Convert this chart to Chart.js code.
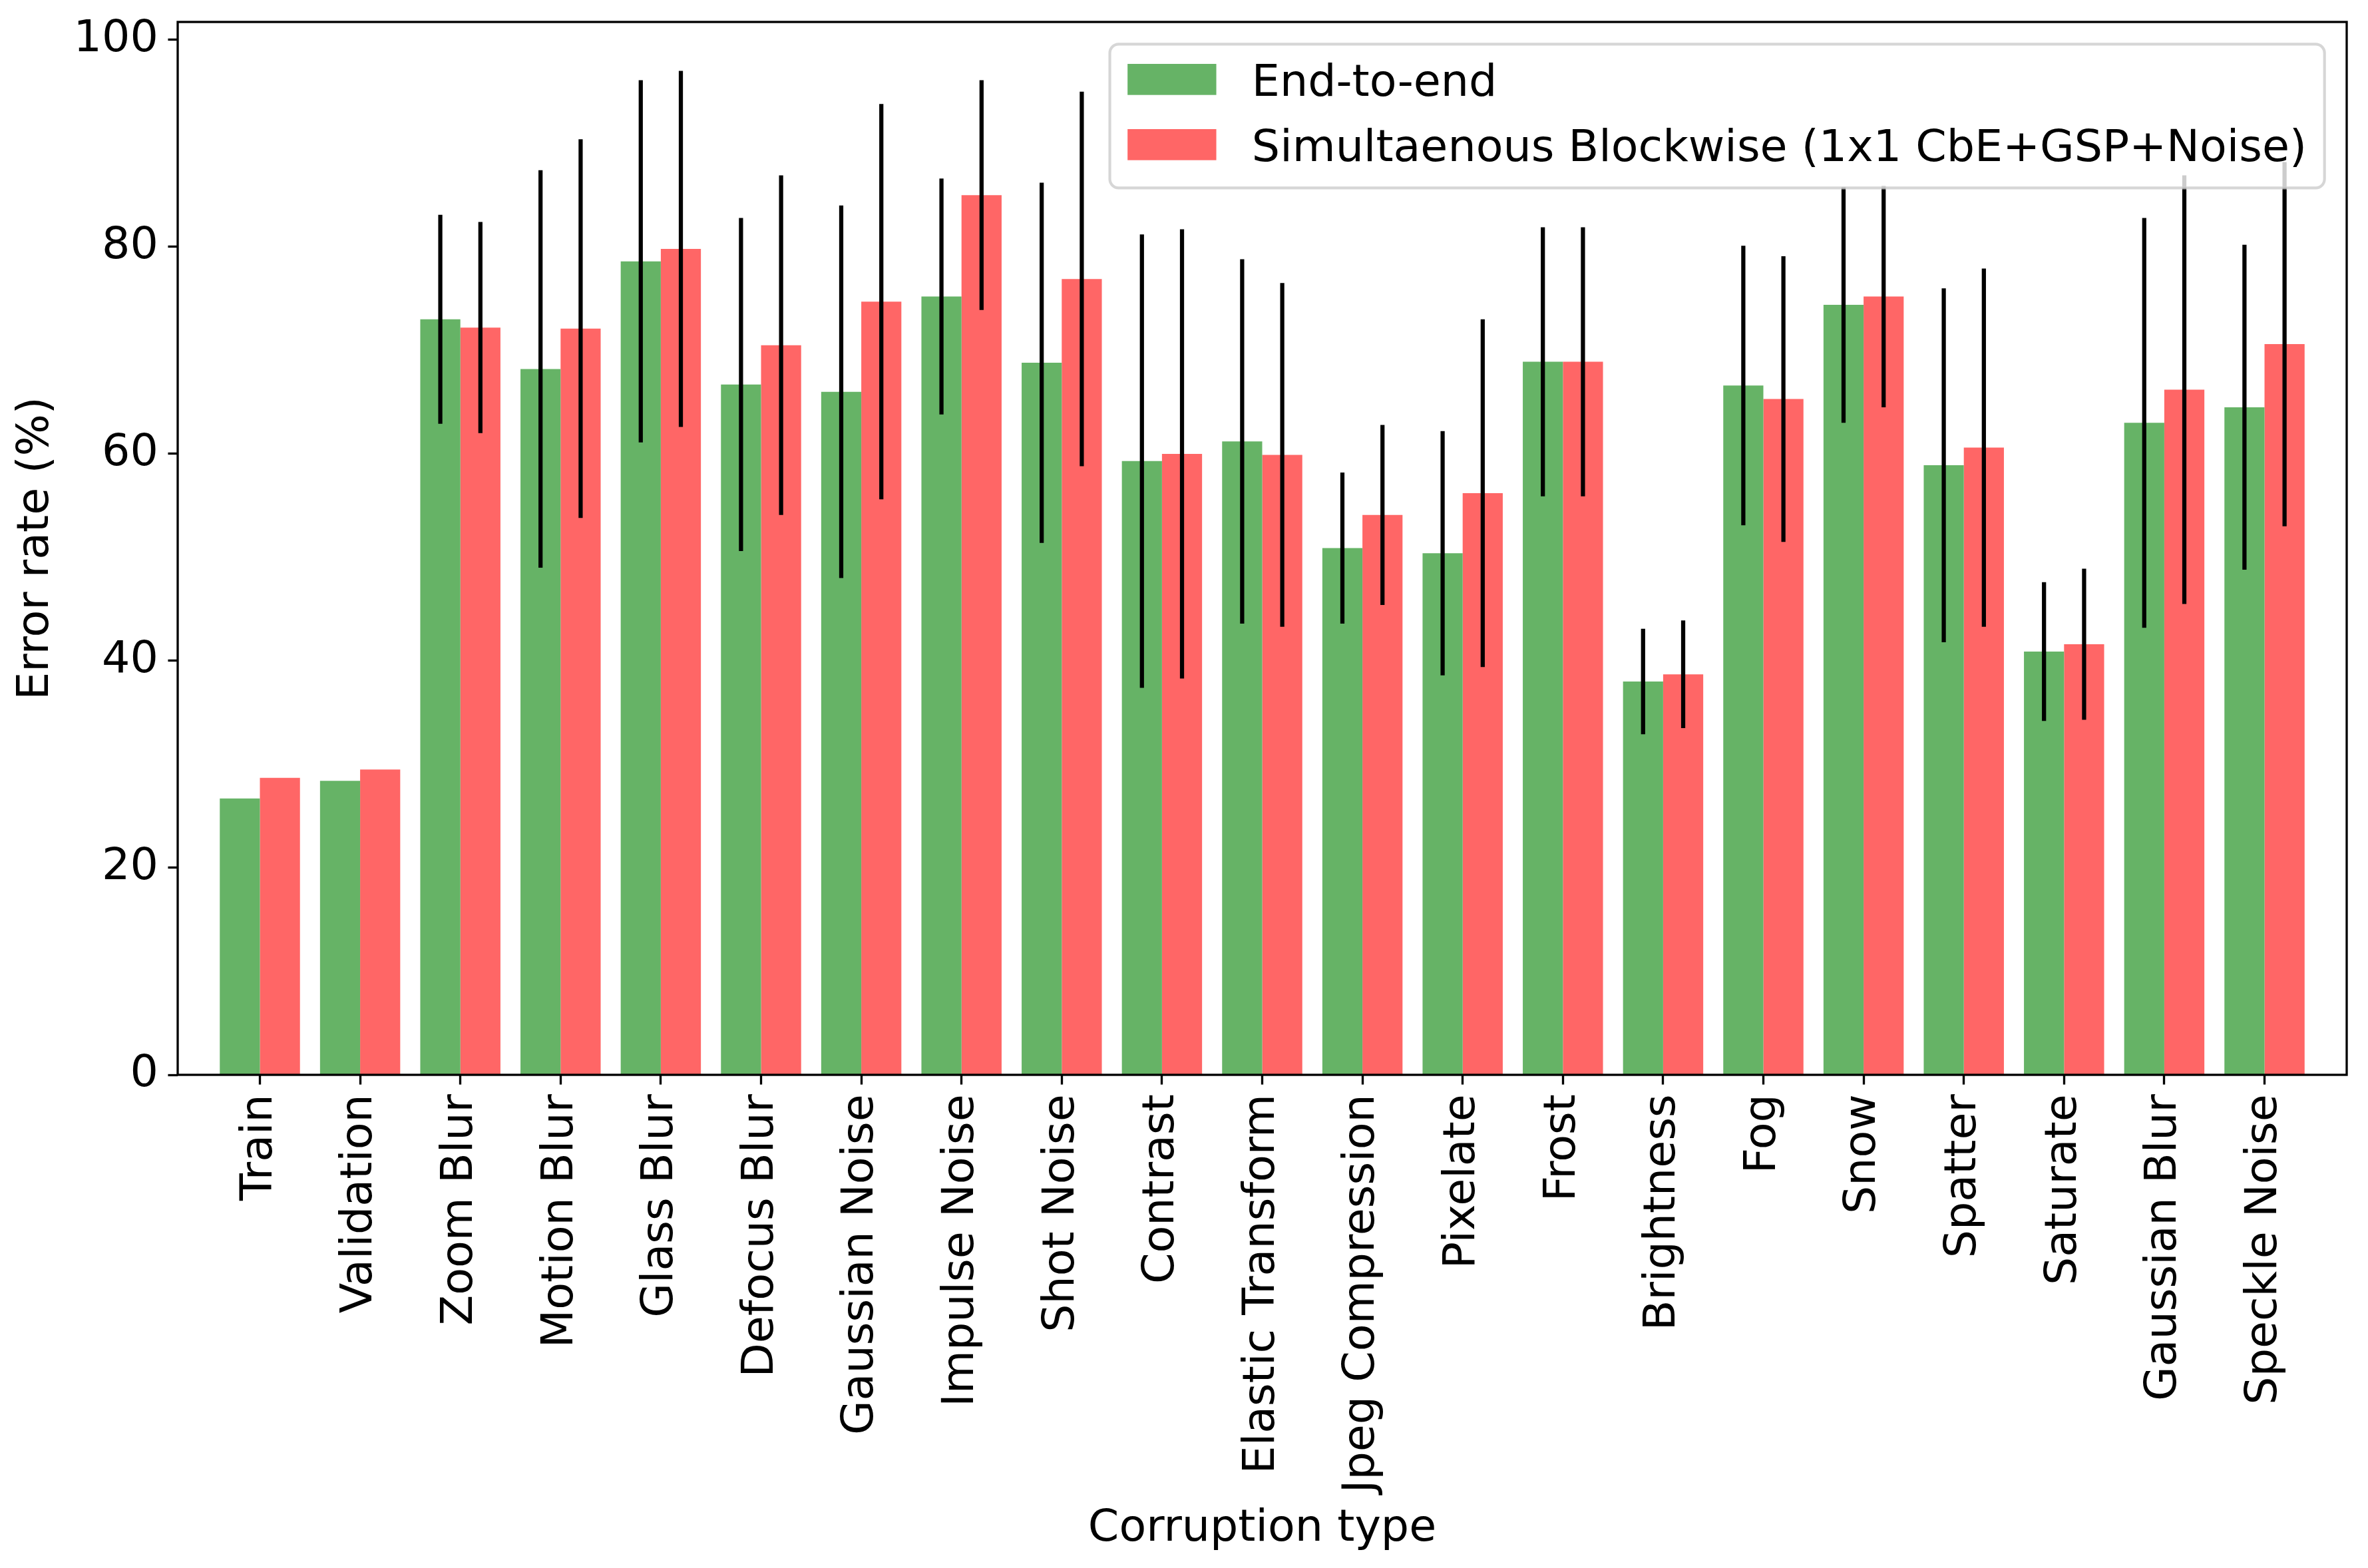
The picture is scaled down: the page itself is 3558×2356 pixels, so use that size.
<!DOCTYPE html>
<html><head><meta charset="utf-8">
<script src="https://cdn.jsdelivr.net/npm/chart.js@4.4.1/dist/chart.umd.min.js"></script>
<style>html,body{margin:0;padding:0;background:#fff;} canvas{display:block;}</style>
</head><body>
<canvas id="c" width="3558" height="2356" style="width:3558px;height:2356px"></canvas>
<script>
const categories = ['Train','Validation','Zoom Blur','Motion Blur','Glass Blur','Defocus Blur','Gaussian Noise','Impulse Noise','Shot Noise','Contrast','Elastic Transform','Jpeg Compression','Pixelate','Frost','Brightness','Fog','Snow','Spatter','Saturate','Gaussian Blur','Speckle Noise'];
const seriesLabels = ['End-to-end', 'Simultaenous Blockwise (1x1 CbE+GSP+Noise)'];
const endToEnd    = [26.7, 28.4, 73.0, 68.2, 78.6, 66.7, 66.0, 75.2, 68.8, 59.3, 61.2, 50.9, 50.4, 68.9, 38.0, 66.6, 74.4, 58.9, 40.9, 63.0, 64.5];
const endToEndErr = [0, 0, 10.1, 19.2, 17.5, 16.1, 18.0, 11.4, 17.4, 21.9, 17.6, 7.3, 11.8, 13.0, 5.1, 13.5, 11.4, 17.1, 6.7, 19.8, 15.7];
const blockwise    = [28.7, 29.5, 72.2, 72.1, 79.8, 70.5, 74.7, 85.0, 76.9, 60.0, 59.9, 54.1, 56.2, 68.9, 38.7, 65.3, 75.2, 60.6, 41.6, 66.2, 70.6];
const blockwiseErr = [0, 0, 10.2, 18.3, 17.2, 16.4, 19.1, 11.1, 18.1, 21.7, 16.6, 8.7, 16.8, 13.0, 5.2, 13.8, 10.7, 17.3, 7.3, 20.7, 17.6];
const yTicks = [0, 20, 40, 60, 80, 100];

const PT = 300 / 72;
const FS = 16 * PT;
const FAMILY = "'DejaVu Sans', 'Liberation Sans', sans-serif";
const GREEN = 'rgb(102,179,102)';
const RED = 'rgb(255,102,102)';

const overlayPlugin = {
  id: 'overlay',
  afterDatasetsDraw(chart) {
    const ctx = chart.ctx;
    const ys = chart.scales.y;
    const a = chart.chartArea;
    ctx.save();
    // error bars
    ctx.strokeStyle = '#000';
    ctx.lineWidth = 1.5 * PT;
    ctx.lineCap = 'butt';
    chart.data.datasets.forEach((ds, i) => {
      const meta = chart.getDatasetMeta(i);
      meta.data.forEach((el, j) => {
        const e = ds.errors[j];
        if (!e) return;
        const v = ds.data[j].y;
        ctx.beginPath();
        ctx.moveTo(el.x, ys.getPixelForValue(v + e));
        ctx.lineTo(el.x, ys.getPixelForValue(v - e));
        ctx.stroke();
      });
    });
    // frame
    ctx.lineWidth = 0.8 * PT;
    ctx.strokeStyle = '#000';
    ctx.strokeRect(a.left, a.top, a.right - a.left, a.bottom - a.top);
    // legend
    ctx.font = FS + 'px ' + FAMILY;
    const pad = 0.4 * FS, hl = 2 * FS, hh = 0.7 * FS, htp = 0.8 * FS, ls = 0.5 * FS, bap = 0.5 * FS;
    const rowH = 0.97 * FS;
    const labels = chart.data.datasets.map(d => d.label);
    const tw = Math.max(...labels.map(t => ctx.measureText(t).width));
    const w = 2 * pad + hl + htp + tw;
    const h = 2 * pad + labels.length * rowH + (labels.length - 1) * ls;
    const right = a.right - bap, top = a.top + bap, left = right - w;
    ctx.beginPath();
    ctx.roundRect(left, top, w, h, 0.2 * FS);
    ctx.fillStyle = 'rgba(255,255,255,0.8)';
    ctx.fill();
    ctx.lineWidth = PT;
    ctx.strokeStyle = 'rgba(204,204,204,0.8)';
    ctx.stroke();
    labels.forEach((t, k) => {
      const cy = top + pad + rowH / 2 - 0.09 * FS + k * (rowH + ls);
      ctx.fillStyle = chart.data.datasets[k].backgroundColor;
      ctx.fillRect(left + pad, cy - hh / 2, hl, hh);
      ctx.fillStyle = '#000';
      ctx.textAlign = 'left';
      ctx.textBaseline = 'alphabetic';
      ctx.fillText(t, left + pad + hl + htp, cy + 0.365 * FS);
    });
    ctx.restore();
  }
};

const tickFont = { family: FAMILY, size: FS };
const gridOpts = { drawOnChartArea: false, drawTicks: true, tickLength: 3.5 * PT, tickWidth: 0.8 * PT, tickColor: '#000', offset: false };

new Chart(document.getElementById('c'), {
  type: 'bar',
  data: {
    datasets: [
      { label: seriesLabels[0], data: categories.map((c, i) => ({ x: i, y: endToEnd[i] })), errors: endToEndErr, backgroundColor: GREEN, borderWidth: 0 },
      { label: seriesLabels[1], data: categories.map((c, i) => ({ x: i, y: blockwise[i] })), errors: blockwiseErr, backgroundColor: RED, borderWidth: 0 }
    ]
  },
  options: {
    responsive: false,
    animation: false,
    devicePixelRatio: 1,
    layout: { padding: { left: 0, top: 33, right: 32, bottom: 0 } },
    plugins: { legend: { display: false }, tooltip: { enabled: false } },
    datasets: { bar: { categoryPercentage: 0.8, barPercentage: 1.0 } },
    scales: {
      x: {
        type: 'linear', min: -0.82, max: 20.82, offset: false,
        afterBuildTicks: s => { s.ticks = categories.map((_, i) => ({ value: i })); },
        afterFit: s => { s.height = 741; s.paddingLeft = 0; s.paddingRight = 0; },
        ticks: { autoSkip: false, minRotation: 90, maxRotation: 90, padding: 3.5 * PT, font: tickFont, color: '#000', callback: v => categories[v] },
        grid: gridOpts,
        border: { display: false },
        title: { display: true, text: 'Corruption type', font: tickFont, color: '#000', padding: { top: 0, bottom: 18 } }
      },
      y: {
        min: 0, max: 101.73,
        afterBuildTicks: s => { s.ticks = yTicks.map(v => ({ value: v })); },
        afterFit: s => { s.width = 267; s.paddingTop = 0; s.paddingBottom = 0; },
        ticks: { padding: 3.5 * PT, font: tickFont, color: '#000' },
        grid: gridOpts,
        border: { display: false },
        title: { display: true, text: 'Error rate (%)', font: tickFont, color: '#000', padding: { top: 15, bottom: 0 } }
      }
    }
  },
  plugins: [overlayPlugin]
});
</script>
</body></html>
